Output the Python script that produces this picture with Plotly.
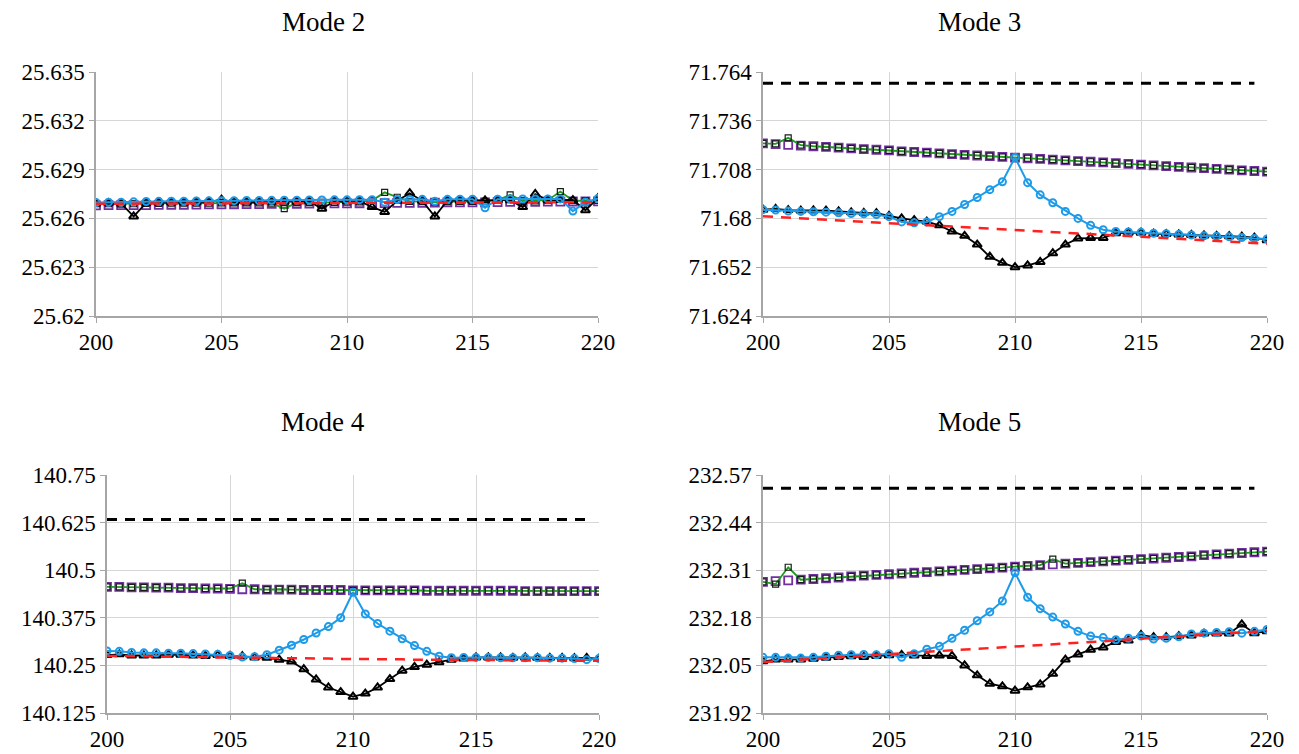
import plotly.graph_objects as go

# ---------------- data ----------------
X = [200, 200.5, 201, 201.5, 202, 202.5, 203, 203.5, 204, 204.5,
     205, 205.5, 206, 206.5, 207, 207.5, 208, 208.5, 209, 209.5,
     210, 210.5, 211, 211.5, 212, 212.5, 213, 213.5, 214, 214.5,
     215, 215.5, 216, 216.5, 217, 217.5, 218, 218.5, 219, 219.5, 220]

X_TICKS = [200, 205, 210, 215, 220]
TITLES = ["Mode 2", "Mode 3", "Mode 4", "Mode 5"]

# Mode 2
M2_TICKS = [25.62, 25.623, 25.626, 25.629, 25.632, 25.635]
M2_TICKTEXT = ["25.62", "25.623", "25.626", "25.629", "25.632", "25.635"]
M2_PURPLE = [25.62680, 25.62681, 25.62681, 25.62682, 25.62682, 25.62683, 25.62684, 25.62684, 25.62685, 25.62686,
             25.62686, 25.62687, 25.62688, 25.62688, 25.62689, 25.62689, 25.62690, 25.62691, 25.62691, 25.62692,
             25.62692, 25.62693, 25.62694, 25.62694, 25.62695, 25.62696, 25.62696, 25.62697, 25.62698, 25.62698,
             25.62699, 25.62699, 25.62700, 25.62701, 25.62701, 25.62702, 25.62703, 25.62703, 25.62704, 25.62704, 25.62705]
M2_GREEN = [25.62690, 25.62690, 25.62688, 25.62690, 25.62692, 25.62692, 25.62693, 25.62693, 25.62694, 25.62694,
            25.62695, 25.62695, 25.62696, 25.62695, 25.62694, 25.62660, 25.62697, 25.62697, 25.62698, 25.62698,
            25.62700, 25.62702, 25.62710, 25.62760, 25.62730, 25.62705, 25.62703, 25.62700, 25.62703, 25.62704,
            25.62705, 25.62705, 25.62712, 25.62745, 25.62708, 25.62708, 25.62712, 25.62765, 25.62710, 25.62708, 25.62710]
M2_BLUE = [25.62698, 25.62700, 25.62700, 25.62702, 25.62704, 25.62705, 25.62706, 25.62706, 25.62707, 25.62708,
           25.62708, 25.62709, 25.62710, 25.62710, 25.62711, 25.62712, 25.62712, 25.62713, 25.62713, 25.62714,
           25.62714, 25.62715, 25.62715, 25.62700, 25.62716, 25.62716, 25.62717, 25.62705, 25.62717, 25.62718,
           25.62718, 25.62665, 25.62718, 25.62719, 25.62719, 25.62720, 25.62720, 25.62720, 25.62645, 25.62700, 25.62722]
M2_BLACK = [25.62692, 25.62694, 25.62692, 25.62612, 25.62695, 25.62697, 25.62698, 25.62698, 25.62700, 25.62702,
            25.62715, 25.62700, 25.62700, 25.62702, 25.62702, 25.62703, 25.62703, 25.62704, 25.62660, 25.62705,
            25.62705, 25.62706, 25.62670, 25.62640, 25.62708, 25.62755, 25.62708, 25.62612, 25.62710, 25.62710,
            25.62710, 25.62711, 25.62711, 25.62712, 25.62670, 25.62750, 25.62712, 25.62713, 25.62713, 25.62650, 25.62725]
M2_RED = [25.62690, 25.62690, 25.62691, 25.62691, 25.62691, 25.62691, 25.62692, 25.62692, 25.62692, 25.62692,
          25.62693, 25.62693, 25.62693, 25.62693, 25.62694, 25.62694, 25.62694, 25.62694, 25.62695, 25.62695,
          25.62695, 25.62695, 25.62696, 25.62696, 25.62696, 25.62696, 25.62697, 25.62697, 25.62697, 25.62697,
          25.62698, 25.62698, 25.62698, 25.62698, 25.62699, 25.62699, 25.62699, 25.62699, 25.62700, 25.62700, 25.62700]
M2_REF = None

# Mode 3
M3_TICKS = [71.624, 71.652, 71.68, 71.708, 71.736, 71.764]
M3_TICKTEXT = ["71.624", "71.652", "71.68", "71.708", "71.736", "71.764"]
M3_PURPLE = [71.7230, 71.7226, 71.7222, 71.7218, 71.7214, 71.7210, 71.7206, 71.7202, 71.7198, 71.7194,
             71.7190, 71.7185, 71.7181, 71.7177, 71.7173, 71.7169, 71.7165, 71.7161, 71.7157, 71.7153,
             71.7149, 71.7145, 71.7141, 71.7137, 71.7133, 71.7129, 71.7125, 71.7121, 71.7117, 71.7113,
             71.7108, 71.7104, 71.7100, 71.7096, 71.7092, 71.7088, 71.7084, 71.7080, 71.7076, 71.7072, 71.7068]
M3_GREEN = [71.7230, 71.7228, 71.7262, 71.7220, 71.7214, 71.7210, 71.7206, 71.7202, 71.7198, 71.7194,
            71.7190, 71.7185, 71.7181, 71.7177, 71.7173, 71.7169, 71.7165, 71.7161, 71.7157, 71.7153,
            71.7149, 71.7145, 71.7141, 71.7137, 71.7133, 71.7129, 71.7125, 71.7121, 71.7117, 71.7113,
            71.7108, 71.7104, 71.7100, 71.7096, 71.7092, 71.7088, 71.7084, 71.7080, 71.7076, 71.7072, 71.7068]
M3_BLUE = [71.6850, 71.6848, 71.6842, 71.6840, 71.6838, 71.6836, 71.6832, 71.6828, 71.6826, 71.6822,
           71.6810, 71.6780, 71.6775, 71.6780, 71.6810, 71.6840, 71.6880, 71.6920, 71.6965, 71.7010,
           71.7150, 71.7005, 71.6935, 71.6890, 71.6840, 71.6800, 71.6760, 71.6735, 71.6725, 71.6722,
           71.6720, 71.6715, 71.6712, 71.6708, 71.6705, 71.6700, 71.6698, 71.6694, 71.6690, 71.6685, 71.6682]
M3_BLACK = [71.6850, 71.6855, 71.6848, 71.6845, 71.6846, 71.6845, 71.6840, 71.6835, 71.6832, 71.6830,
            71.6815, 71.6800, 71.6790, 71.6782, 71.6760, 71.6725, 71.6700, 71.6650, 71.6580, 71.6545,
            71.6520, 71.6530, 71.6550, 71.6600, 71.6650, 71.6685, 71.6688, 71.6688, 71.6715, 71.6718,
            71.6718, 71.6712, 71.6710, 71.6708, 71.6705, 71.6702, 71.6700, 71.6698, 71.6696, 71.6690, 71.6675]
M3_RED = [71.6812, 71.6808, 71.6804, 71.6800, 71.6797, 71.6793, 71.6789, 71.6785, 71.6781, 71.6777,
          71.6773, 71.6769, 71.6765, 71.6761, 71.6757, 71.6753, 71.6749, 71.6745, 71.6741, 71.6737,
          71.6733, 71.6729, 71.6725, 71.6721, 71.6717, 71.6713, 71.6709, 71.6705, 71.6701, 71.6697,
          71.6694, 71.6690, 71.6686, 71.6682, 71.6678, 71.6674, 71.6670, 71.6666, 71.6662, 71.6658, 71.6655]
M3_REF = 71.7576

# Mode 4
M4_TICKS = [140.125, 140.25, 140.375, 140.5, 140.625, 140.75]
M4_TICKTEXT = ["140.125", "140.25", "140.375", "140.5", "140.625", "140.75"]
M4_PURPLE = [140.456, 140.456, 140.455, 140.455, 140.454, 140.454, 140.453, 140.453, 140.452, 140.452,
             140.451, 140.450, 140.450, 140.449, 140.449, 140.449, 140.448, 140.448, 140.448, 140.448,
             140.447, 140.447, 140.447, 140.447, 140.447, 140.447, 140.446, 140.446, 140.446, 140.446,
             140.446, 140.446, 140.446, 140.446, 140.445, 140.445, 140.445, 140.445, 140.445, 140.445, 140.445]
M4_GREEN = [140.456, 140.456, 140.455, 140.455, 140.454, 140.454, 140.453, 140.453, 140.452, 140.452,
            140.452, 140.466, 140.450, 140.449, 140.450, 140.449, 140.448, 140.448, 140.448, 140.448,
            140.447, 140.447, 140.447, 140.447, 140.447, 140.447, 140.446, 140.446, 140.446, 140.446,
            140.446, 140.446, 140.446, 140.446, 140.445, 140.445, 140.445, 140.445, 140.445, 140.445, 140.445]
M4_BLUE = [140.288, 140.287, 140.284, 140.283, 140.283, 140.282, 140.282, 140.281, 140.280, 140.279,
           140.276, 140.272, 140.273, 140.278, 140.290, 140.303, 140.318, 140.335, 140.352, 140.375,
           140.442, 140.385, 140.360, 140.340, 140.320, 140.302, 140.287, 140.274, 140.270, 140.271,
           140.271, 140.271, 140.270, 140.270, 140.270, 140.270, 140.269, 140.269, 140.268, 140.265, 140.268]
M4_BLACK = [140.277, 140.279, 140.276, 140.276, 140.276, 140.278, 140.278, 140.276, 140.275, 140.277,
            140.275, 140.274, 140.271, 140.270, 140.265, 140.260, 140.240, 140.213, 140.192, 140.180,
            140.168, 140.176, 140.192, 140.214, 140.236, 140.246, 140.252, 140.258, 140.265, 140.268,
            140.271, 140.271, 140.271, 140.270, 140.271, 140.270, 140.270, 140.270, 140.269, 140.270, 140.268]
M4_RED = [140.275, 140.275, 140.274, 140.274, 140.273, 140.273, 140.273, 140.272, 140.272, 140.271,
          140.271, 140.271, 140.270, 140.270, 140.269, 140.269, 140.269, 140.268, 140.268, 140.267,
          140.267, 140.267, 140.266, 140.266, 140.266, 140.265, 140.265, 140.265, 140.265, 140.264,
          140.264, 140.264, 140.264, 140.263, 140.263, 140.263, 140.263, 140.263, 140.262, 140.262, 140.262]
M4_REF = 140.633

# Mode 5
M5_TICKS = [231.92, 232.05, 232.18, 232.31, 232.44, 232.57]
M5_TICKTEXT = ["231.92", "232.05", "232.18", "232.31", "232.44", "232.57"]
M5_PURPLE = [232.278, 232.280, 232.282, 232.284, 232.286, 232.288, 232.290, 232.293, 232.295, 232.297,
             232.299, 232.301, 232.303, 232.305, 232.307, 232.309, 232.311, 232.313, 232.315, 232.317,
             232.320, 232.322, 232.324, 232.326, 232.328, 232.330, 232.332, 232.334, 232.336, 232.338,
             232.340, 232.342, 232.344, 232.346, 232.348, 232.351, 232.353, 232.355, 232.357, 232.359, 232.361]
M5_GREEN = [232.278, 232.272, 232.318, 232.284, 232.286, 232.288, 232.290, 232.293, 232.295, 232.297,
            232.299, 232.301, 232.303, 232.305, 232.307, 232.309, 232.311, 232.313, 232.315, 232.317,
            232.320, 232.322, 232.324, 232.340, 232.328, 232.330, 232.332, 232.334, 232.336, 232.338,
            232.340, 232.342, 232.344, 232.346, 232.348, 232.351, 232.353, 232.355, 232.357, 232.359, 232.361]
M5_BLUE = [232.072, 232.072, 232.070, 232.070, 232.072, 232.075, 232.078, 232.079, 232.080, 232.079,
           232.082, 232.072, 232.082, 232.094, 232.102, 232.124, 232.146, 232.172, 232.196, 232.226,
           232.303, 232.236, 232.205, 232.182, 232.163, 232.143, 232.130, 232.126, 232.120, 232.124,
           232.130, 232.122, 232.124, 232.128, 232.136, 232.138, 232.140, 232.142, 232.138, 232.143, 232.148]
M5_BLACK = [232.061, 232.066, 232.066, 232.066, 232.068, 232.071, 232.073, 232.075, 232.073, 232.076,
            232.078, 232.079, 232.077, 232.076, 232.077, 232.076, 232.050, 232.023, 232.000, 231.993,
            231.981, 231.990, 231.998, 232.027, 232.066, 232.080, 232.093, 232.099, 232.114, 232.118,
            232.133, 232.127, 232.127, 232.130, 232.132, 232.137, 232.137, 232.137, 232.162, 232.138, 232.143]
M5_RED = [232.059, 232.061, 232.063, 232.065, 232.068, 232.070, 232.072, 232.074, 232.076, 232.078,
          232.080, 232.083, 232.085, 232.087, 232.089, 232.091, 232.093, 232.095, 232.097, 232.099,
          232.102, 232.104, 232.106, 232.108, 232.110, 232.112, 232.114, 232.116, 232.118, 232.121,
          232.123, 232.125, 232.127, 232.129, 232.131, 232.133, 232.135, 232.138, 232.140, 232.142, 232.144]
M5_REF = 232.534

MODES = [
    (M2_TICKS, M2_TICKTEXT, M2_PURPLE, M2_GREEN, M2_BLUE, M2_BLACK, M2_RED, M2_REF),
    (M3_TICKS, M3_TICKTEXT, M3_PURPLE, M3_GREEN, M3_BLUE, M3_BLACK, M3_RED, M3_REF),
    (M4_TICKS, M4_TICKTEXT, M4_PURPLE, M4_GREEN, M4_BLUE, M4_BLACK, M4_RED, M4_REF),
    (M5_TICKS, M5_TICKTEXT, M5_PURPLE, M5_GREEN, M5_BLUE, M5_BLACK, M5_RED, M5_REF),
]

# ---------------- layout geometry (pixels in a 1299x754 page) ----------------
W, H = 1299, 754
BOXES = [  # (left, right, top, bottom) in pixels
    (96, 598, 72, 316),
    (763, 1267, 72, 316),
    (107, 599, 475, 713),
    (763, 1267, 475, 713),
]
TITLE_POS = [(323, 22), (980, 22), (323, 422), (980, 422)]

PURPLE = "#7030A0"
GREEN = "#1E9A1E"
BLUE = "#1E9BE8"
BLACK = "#000000"
RED = "#FF2020"
FONT = "Liberation Serif"

fig = go.Figure()
layout = dict(
    width=W, height=H, margin=dict(l=0, r=0, t=0, b=0, autoexpand=False),
    paper_bgcolor="white", plot_bgcolor="white", showlegend=False,
    annotations=[],
)

for k, (ticks, ticktext, purple, green, blue, black, red, ref) in enumerate(MODES):
    n = "" if k == 0 else str(k + 1)
    xa, ya = "x" + n, "y" + n
    l, r, t, b = BOXES[k]
    common = dict(
        showgrid=True, gridcolor="#d6d6d6", gridwidth=1,
        showline=True, linecolor="#a6a6a6", linewidth=1.5,
        ticks="outside", ticklen=5, tickcolor="#a6a6a6",
        tickfont=dict(family=FONT, size=23, color="black"), zeroline=False,
        automargin=False,
    )
    layout["xaxis" + n] = dict(
        domain=[l / W, r / W], range=[X_TICKS[0], X_TICKS[-1]], anchor=ya,
        tickvals=X_TICKS, ticktext=[str(v) for v in X_TICKS], **common,
    )
    layout["yaxis" + n] = dict(
        domain=[(H - b) / H, (H - t) / H], range=[ticks[0], ticks[-1]], anchor=xa,
        tickvals=ticks, ticktext=ticktext, **common,
    )
    tx, ty = TITLE_POS[k]
    layout["annotations"].append(dict(
        text=TITLES[k], x=tx / W, y=1 - ty / H, xref="paper", yref="paper",
        showarrow=False, xanchor="center", yanchor="middle",
        font=dict(family=FONT, size=27, color="black"),
    ))

    fig.add_trace(go.Scatter(x=X, y=purple, xaxis=xa, yaxis=ya, mode="markers",
                             marker=dict(symbol="square-open", size=8, color=PURPLE, line=dict(width=1.8))))
    fig.add_trace(go.Scatter(x=X, y=green, xaxis=xa, yaxis=ya, mode="lines+markers",
                             line=dict(color=GREEN, width=1.8),
                             marker=dict(symbol="square-open", size=6, color="#1a1a1a", line=dict(width=1.2))))
    fig.add_trace(go.Scatter(x=X, y=black, xaxis=xa, yaxis=ya, mode="lines+markers",
                             line=dict(color=BLACK, width=1.8),
                             marker=dict(symbol="triangle-up-open", size=8, color=BLACK, line=dict(width=2))))
    fig.add_trace(go.Scatter(x=X, y=blue, xaxis=xa, yaxis=ya, mode="lines+markers",
                             line=dict(color=BLUE, width=2),
                             marker=dict(symbol="circle-open", size=7, color=BLUE, line=dict(width=2))))
    fig.add_trace(go.Scatter(x=X, y=red, xaxis=xa, yaxis=ya, mode="lines",
                             line=dict(color=RED, width=2.5, dash="10px,8px")))
    if ref is not None:
        fig.add_trace(go.Scatter(x=[X[0], X[-2]], y=[ref, ref], xaxis=xa, yaxis=ya, mode="lines",
                                 line=dict(color=BLACK, width=3, dash="10px,8px")))

fig.update_layout(**layout)
fig.write_html("out.html")
